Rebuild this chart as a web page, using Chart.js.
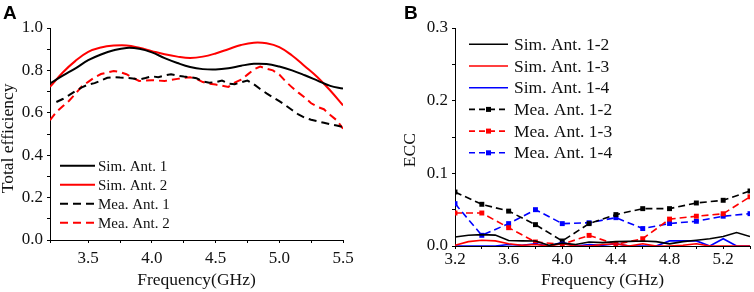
<!DOCTYPE html>
<html>
<head>
<meta charset="utf-8">
<script src="https://cdn.jsdelivr.net/npm/chart.js@4.4.1/dist/chart.umd.min.js"></script>
<style>
html,body{margin:0;padding:0;background:#fff;}
#wrap{position:relative;width:754px;height:292px;overflow:hidden;background:#fff;}
#cA{position:absolute;left:0;top:0;}
#cB{position:absolute;left:377px;top:0;}
</style>
</head>
<body>
<div id="wrap">
<canvas id="cA" width="377" height="292"></canvas>
<canvas id="cB" width="377" height="292"></canvas>
</div>
<script>
// ---------- Panel A data ----------
const freqSimA = [3.2,3.3,3.4,3.5,3.6,3.7,3.8,3.9,4.0,4.1,4.2,4.3,4.4,4.5,4.6,4.7,4.8,4.9,5.0,5.1,5.2,5.3,5.4,5.5];
const simAnt1 = [0.738,0.775,0.81,0.848,0.875,0.895,0.906,0.902,0.885,0.858,0.835,0.816,0.806,0.804,0.81,0.822,0.831,0.83,0.818,0.8,0.777,0.752,0.727,0.714];
const simAnt2 = [0.722,0.79,0.845,0.887,0.908,0.917,0.918,0.907,0.891,0.876,0.865,0.859,0.865,0.88,0.9,0.92,0.931,0.928,0.91,0.87,0.82,0.768,0.705,0.635];
const freqMeaA1 = [3.25,3.3,3.35,3.4,3.45,3.5,3.55,3.6,3.65,3.7,3.75,3.8,3.85,3.9,3.95,4.0,4.05,4.1,4.15,4.2,4.25,4.3,4.35,4.4,4.45,4.5,4.55,4.6,4.65,4.7,4.75,4.8,4.85,4.9,4.95,5.0,5.05,5.1,5.15,5.2,5.25,5.3,5.35,5.4,5.45,5.5];
const meaAnt1 = [0.651,0.665,0.683,0.703,0.72,0.733,0.74,0.752,0.765,0.768,0.766,0.765,0.762,0.757,0.764,0.772,0.768,0.776,0.782,0.775,0.771,0.768,0.763,0.748,0.742,0.745,0.752,0.738,0.735,0.744,0.752,0.735,0.712,0.692,0.673,0.655,0.635,0.613,0.592,0.577,0.567,0.56,0.553,0.546,0.54,0.533];
const freqMeaA2 = [3.2,3.25,3.3,3.35,3.4,3.45,3.5,3.55,3.6,3.65,3.7,3.75,3.8,3.85,3.9,3.95,4.0,4.05,4.1,4.15,4.2,4.25,4.3,4.35,4.4,4.45,4.5,4.55,4.6,4.65,4.7,4.75,4.8,4.85,4.9,4.95,5.0,5.05,5.1,5.15,5.2,5.25,5.3,5.35,5.4,5.45,5.5];
const meaAnt2 = [0.565,0.604,0.631,0.657,0.69,0.725,0.746,0.767,0.783,0.79,0.797,0.792,0.782,0.765,0.75,0.752,0.754,0.752,0.75,0.755,0.76,0.765,0.768,0.76,0.745,0.737,0.733,0.728,0.722,0.742,0.756,0.78,0.805,0.818,0.808,0.8,0.78,0.748,0.72,0.695,0.672,0.645,0.628,0.617,0.59,0.565,0.525];
const labelsA = ['Sim. Ant. 1','Sim. Ant. 2','Mea. Ant. 1','Mea. Ant. 2'];

// ---------- Panel B data ----------
const freqSimB = [3.2,3.3,3.4,3.5,3.6,3.7,3.8,3.9,4.0,4.1,4.2,4.3,4.4,4.5,4.6,4.7,4.8,4.9,5.0,5.1,5.2,5.3,5.4];
const simB12 = [0.0124,0.0147,0.0156,0.015,0.0075,0.007,0.0068,0.001,0.004,0.002,0.0055,0.0046,0.006,0.0064,0.0069,0.006,0.003,0.006,0.008,0.01,0.013,0.0185,0.013];
const simB13 = [0.001,0.006,0.008,0.007,0.003,0.001,0.002,0.0,0.003,0.0,0.0,0.002,0.003,0.0,0.003,0.0,0.0,0.001,0.003,0.0,0.0,0.0,0.0];
const simB14 = [0,0,0,0,0.002,0.001,0.003,0,0.005,0,0.002,0.001,0.003,0,0,0,0.007,0.007,0.007,0,0.01,0,0];
const freqMeaB = [3.2,3.4,3.6,3.8,4.0,4.2,4.4,4.6,4.8,5.0,5.2,5.4];
const meaB12 = [0.0743,0.0574,0.048,0.0294,0.0069,0.0308,0.0432,0.0514,0.0514,0.0592,0.0629,0.0757];
const meaB13 = [0.0454,0.0454,0.0252,0.0055,0.0023,0.0146,0.0023,0.01,0.037,0.041,0.0444,0.0677];
const meaB14 = [0.0583,0.0147,0.0308,0.05,0.0308,0.032,0.039,0.024,0.031,0.034,0.041,0.0445];
const labelsB = ['Sim. Ant. 1-2','Sim. Ant. 1-3','Sim. Ant. 1-4','Mea. Ant. 1-2','Mea. Ant. 1-3','Mea. Ant. 1-4'];

const RED = '#ff0000', BLUE = '#0000ff', BLACK = '#000000';
const SERIF = '"Liberation Serif","Times New Roman",serif';
const TXT = '#111111';

function pts(xs, ys){ return xs.map((x,i)=>({x:x, y:ys[i]})); }
function near(v, step, base){ const k=(v-base)/step; return Math.abs(k-Math.round(k))<1e-6; }

// Custom legend + panel letter plugin
function makeOverlay(letter, letterX, items, cfg){
  return {
    id:'overlay'+letter,
    afterDraw(chart){
      const ctx = chart.ctx;
      ctx.save();
      ctx.fillStyle = '#000';
      ctx.font = 'bold 19px "Liberation Sans", Arial, sans-serif';
      ctx.textBaseline = 'alphabetic';
      ctx.textAlign = 'left';
      ctx.fillText(letter, letterX, 18.5);
      ctx.font = cfg.font + 'px ' + SERIF;
      ctx.textBaseline = 'middle';
      items.forEach((it, i) => {
        const y = cfg.y0 + i*cfg.dy;
        ctx.strokeStyle = it.color;
        ctx.lineWidth = cfg.lw;
        ctx.setLineDash(it.dash || []);
        ctx.beginPath();
        ctx.moveTo(cfg.x0, y);
        ctx.lineTo(cfg.x1, y);
        ctx.stroke();
        ctx.setLineDash([]);
        if (it.marker){
          ctx.fillStyle = it.color;
          const m = (cfg.x0+cfg.x1)/2;
          ctx.fillRect(m-2.5, y-2.5, 5, 5);
        }
        ctx.fillStyle = TXT;
        ctx.fillText(it.label, cfg.tx, y+1);
      });
      ctx.restore();
    }
  };
}

function axisCommon(){
  return {
    border:{display:true,color:'#000',width:1},
    grid:{display:true,drawOnChartArea:false,drawTicks:true,tickLength:3,color:'#000',lineWidth:1}
  };
}

// ---------- Chart A ----------
new Chart(document.getElementById('cA'), {
  type:'line',
  data:{datasets:[
    {label:labelsA[0], data:pts(freqSimA, simAnt1), borderColor:BLACK, borderWidth:2, tension:0.4, pointRadius:0},
    {label:labelsA[1], data:pts(freqSimA, simAnt2), borderColor:RED, borderWidth:2, tension:0.4, pointRadius:0},
    {label:labelsA[2], data:pts(freqMeaA1, meaAnt1), borderColor:BLACK, borderWidth:2, borderDash:[8,5], tension:0, pointRadius:0},
    {label:labelsA[3], data:pts(freqMeaA2, meaAnt2), borderColor:RED, borderWidth:2, borderDash:[8,5], tension:0, pointRadius:0}
  ]},
  options:{
    responsive:false, animation:false, devicePixelRatio:1,
    layout:{padding:{left:0,top:28,right:34,bottom:0}},
    plugins:{legend:{display:false}, tooltip:{enabled:false}},
    scales:{
      x:Object.assign(axisCommon(), {
        type:'linear', min:3.2, max:5.5,
        afterFit(s){ s.height = 52; },
        ticks:{stepSize:0.25, autoSkip:false, maxRotation:0, padding:5, color:TXT,
          font:{family:SERIF,size:17},
          callback:(v)=> near(v,0.5,3.5) ? v.toFixed(1) : ''},
        title:{display:true, text:'Frequency(GHz)', color:TXT, font:{family:SERIF,size:17.5,lineHeight:1.0}, padding:{top:0,bottom:3}}
      }),
      y:Object.assign(axisCommon(), {
        type:'linear', min:0, max:1.0,
        afterFit(s){ s.width = 50; },
        ticks:{stepSize:0.1, autoSkip:false, padding:4, color:TXT,
          font:{family:SERIF,size:17},
          callback:(v)=> near(v,0.2,0) ? v.toFixed(1) : ''},
        title:{display:true, text:'Total efficiency\u00a0\u00a0', color:TXT, font:{family:SERIF,size:17.5,lineHeight:1.0}, padding:{top:0,bottom:0}}
      })
    }
  },
  plugins:[makeOverlay('A', 3, [
    {label:labelsA[0], color:BLACK},
    {label:labelsA[1], color:RED},
    {label:labelsA[2], color:BLACK, dash:[8,5]},
    {label:labelsA[3], color:RED, dash:[8,5]}
  ], {font:15, x0:60, x1:95, tx:98, y0:165.7, dy:19, lw:2})]
});

// ---------- Chart B ----------
new Chart(document.getElementById('cB'), {
  type:'line',
  data:{datasets:[
    {label:labelsB[0], data:pts(freqSimB, simB12), borderColor:BLACK, borderWidth:1.6, tension:0, pointRadius:0},
    {label:labelsB[1], data:pts(freqSimB, simB13), borderColor:RED, borderWidth:1.6, tension:0, pointRadius:0},
    {label:labelsB[2], data:pts(freqSimB, simB14), borderColor:BLUE, borderWidth:1.6, tension:0, pointRadius:0},
    {label:labelsB[3], data:pts(freqMeaB, meaB12), borderColor:BLACK, backgroundColor:BLACK, borderWidth:1.6, borderDash:[7,4], tension:0, pointStyle:'rect', pointRadius:3.5, pointBorderWidth:0},
    {label:labelsB[4], data:pts(freqMeaB, meaB13), borderColor:RED, backgroundColor:RED, borderWidth:1.6, borderDash:[7,4], tension:0, pointStyle:'rect', pointRadius:3.5, pointBorderWidth:0},
    {label:labelsB[5], data:pts(freqMeaB, meaB14), borderColor:BLUE, backgroundColor:BLUE, borderWidth:1.6, borderDash:[7,4], tension:0, pointStyle:'rect', pointRadius:3.5, pointBorderWidth:0}
  ]},
  options:{
    responsive:false, animation:false, devicePixelRatio:1,
    layout:{padding:{left:0,top:28,right:0,bottom:0}},
    plugins:{legend:{display:false}, tooltip:{enabled:false}},
    scales:{
      x:Object.assign(axisCommon(), {
        type:'linear', min:3.2, max:5.4,
        afterFit(s){ s.height = 46; },
        ticks:{stepSize:0.2, autoSkip:false, maxRotation:0, padding:0, color:TXT,
          font:{family:SERIF,size:17},
          callback:(v)=> (near(v,0.4,3.2) && v < 5.3) ? v.toFixed(1) : ''},
        title:{display:true, text:'Frequency (GHz)', color:TXT, font:{family:SERIF,size:17.5,lineHeight:1.0}, padding:{top:0,bottom:3}}
      }),
      y:Object.assign(axisCommon(), {
        type:'linear', min:0, max:0.3,
        afterFit(s){ s.width = 78; },
        ticks:{stepSize:0.05, autoSkip:false, padding:4, color:TXT,
          font:{family:SERIF,size:17},
          callback:(v)=> near(v,0.1,0) ? v.toFixed(1) : ''},
        title:{display:true, text:'ECC\u00a0\u00a0\u00a0\u00a0\u00a0\u00a0', color:TXT, font:{family:SERIF,size:17.5,lineHeight:1.0}, padding:{top:25,bottom:0}}
      })
    }
  },
  plugins:[makeOverlay('B', 27, [
    {label:labelsB[0], color:BLACK},
    {label:labelsB[1], color:RED},
    {label:labelsB[2], color:BLUE},
    {label:labelsB[3], color:BLACK, dash:[6,4], marker:true},
    {label:labelsB[4], color:RED, dash:[6,4], marker:true},
    {label:labelsB[5], color:BLUE, dash:[6,4], marker:true}
  ], {font:17.5, x0:92, x1:131, tx:137, y0:44.3, dy:21.7, lw:1.6})]
});
</script>
</body>
</html>
